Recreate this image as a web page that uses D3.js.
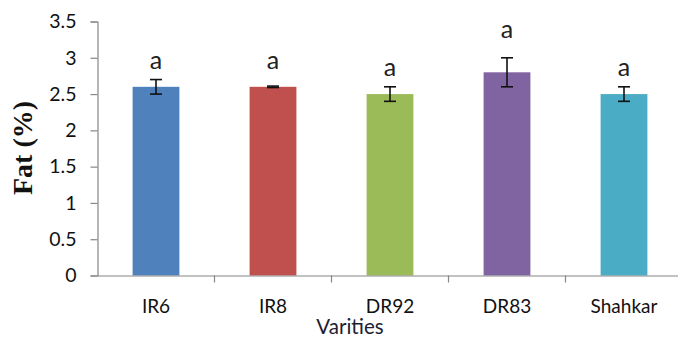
<!DOCTYPE html>
<html><head><meta charset="utf-8">
<script src="https://cdn.jsdelivr.net/npm/d3@7"></script>
<style>body{margin:0;background:#fff}svg{display:block}</style>
</head><body>
<script>
const categories = ["IR6", "IR8", "DR92", "DR83", "Shahkar"];
const fatValues = [2.6, 2.6, 2.5, 2.8, 2.5];
const fatErrors = [0.1, 0.01, 0.1, 0.2, 0.1];
const groupLetters = ["a", "a", "a", "a", "a"];
const barColors = ["#4F81BD", "#C0504D", "#9BBB59", "#8064A2", "#4BACC6"];
const yTicks = [0, 0.5, 1, 1.5, 2, 2.5, 3, 3.5];

const W = 678, H = 338;
const svg = d3.select("body").append("svg").attr("width", W).attr("height", H);

const x = d3.scaleBand().domain(categories).range([97.5, 682.5]).paddingInner(0.6).paddingOuter(0.3);
const y = d3.scaleLinear().domain([0, 3.5]).range([275.5, 21.5]);

const data = categories.map((c, i) => ({c, v: fatValues[i], e: fatErrors[i], l: groupLetters[i], col: barColors[i]}));

// bars
svg.selectAll("rect.bar").data(data).join("rect").attr("class", "bar")
  .attr("x", d => x(d.c)).attr("width", x.bandwidth())
  .attr("y", d => y(d.v)).attr("height", d => y(0) - y(d.v))
  .attr("fill", d => d.col);

// y axis
const yAxis = svg.append("g").attr("transform", "translate(97.5,0)")
  .call(d3.axisLeft(y).tickValues(yTicks).tickSize(7).tickPadding(14).tickFormat(d3.format("")));
yAxis.select(".domain").attr("stroke", "#868686").attr("stroke-width", 1.2);
yAxis.selectAll(".tick line").attr("stroke", "#868686").attr("stroke-width", 1.2);
yAxis.selectAll(".tick text").attr("font-family", "Lato, sans-serif").attr("font-size", 19.5).attr("fill", "#111");

// x axis
const xAxis = svg.append("g").attr("transform", "translate(0,275.5)")
  .call(d3.axisBottom(x).tickSize(0).tickPadding(24));
xAxis.select(".domain").attr("stroke", "#868686").attr("stroke-width", 1.2);
xAxis.selectAll(".tick text").attr("font-family", "Lato, sans-serif").attr("font-size", 19).attr("fill", "#111");
// category boundary ticks
const bounds = categories.slice(1).map(c => x(c) - x.step() * x.paddingInner() / 2);
xAxis.selectAll("line.sep").data(bounds).join("line").attr("class", "sep")
  .attr("x1", d => d).attr("x2", d => d).attr("y1", 0).attr("y2", 7)
  .attr("stroke", "#868686").attr("stroke-width", 1.2);

// error bars
const cx = d => x(d.c) + x.bandwidth() / 2;
const eg = svg.selectAll("g.err").data(data).join("g").attr("class", "err")
  .attr("stroke", "#111").attr("stroke-width", 1.6);
eg.append("line").attr("x1", cx).attr("x2", cx).attr("y1", d => y(d.v + d.e)).attr("y2", d => y(d.v - d.e));
eg.append("line").attr("x1", d => cx(d) - 6).attr("x2", d => cx(d) + 6).attr("y1", d => y(d.v + d.e)).attr("y2", d => y(d.v + d.e));
eg.append("line").attr("x1", d => cx(d) - 6).attr("x2", d => cx(d) + 6).attr("y1", d => y(d.v - d.e)).attr("y2", d => y(d.v - d.e));

// letters
svg.selectAll("text.letter").data(data).join("text").attr("class", "letter")
  .attr("x", cx)
  .attr("y", d => {
    const base = y(d.v) - 18, errTop = y(d.v + d.e);
    return (errTop - base < 8) ? errTop - 20 : base;
  })
  .attr("text-anchor", "middle").attr("font-family", "Lato, sans-serif").attr("font-size", 25).attr("fill", "#222")
  .text(d => d.l);

// axis titles
svg.append("text").attr("x", 350).attr("y", 334).attr("text-anchor", "middle")
  .attr("font-family", "Lato, sans-serif").attr("font-size", 20.5).attr("fill", "#1c2033").text("Varities");
svg.append("text").attr("transform", "translate(32,148) rotate(-90)").attr("text-anchor", "middle")
  .attr("font-family", "'Liberation Serif', serif").attr("font-weight", "bold").attr("font-size", 28).attr("fill", "#111")
  .text("Fat (%)");
</script>
</body></html>
